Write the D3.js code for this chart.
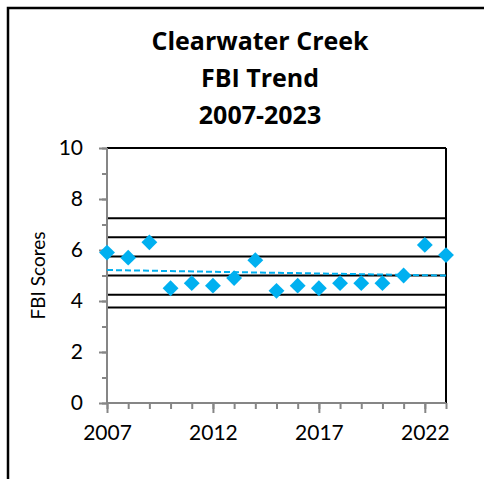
<!DOCTYPE html>
<html lang="en">
<head>
    <meta charset="UTF-8">
    <title>Clearwater Creek FBI Trend</title>
    <style>
        body { margin: 0; background: #fff; }
        text { font-family: Lato, "Open Sans", sans-serif; }
    </style>
</head>
<body>
    <svg id="chart" width="484" height="479"></svg>
    <script src="https://cdn.jsdelivr.net/npm/d3@7/dist/d3.min.js"></script>
    <script>
        var years = [2007, 2008, 2009, 2010, 2011, 2012, 2013, 2014, 2015,
                     2016, 2017, 2018, 2019, 2020, 2021, 2022, 2023];
        var scores = [5.9, 5.7, 6.3, 4.5, 4.7, 4.6, 4.9, 5.6, 4.4,
                      4.6, 4.5, 4.7, 4.7, 4.7, 5.0, 6.2, 5.8];
        // FBI class boundaries
        var thresholds = [3.75, 4.25, 5.0, 5.75, 6.5, 7.25];
        var yTicks = [0, 2, 4, 6, 8, 10];
        var xTicks = [2007, 2012, 2017, 2022];
        var titleLines = ["Clearwater Creek", "FBI Trend", "2007-2023"];

        var blue = "#00b0f0";
        var axisGrey = "#868686";

        const svg = d3.select("#chart")
            .attr("viewBox", [0, 0, 484, 479]);

        var x = d3.scaleLinear().domain([2007, 2023]).range([107, 446]);
        var y = d3.scaleLinear().domain([0, 10]).range([403, 148]);

        // outer frame (cut off at the right and bottom)
        svg.append("path")
            .attr("d", "M8,479V8H484")
            .attr("fill", "none")
            .attr("stroke", "#000")
            .attr("stroke-width", 2.5);

        svg.append("g")
            .selectAll("text")
            .data(titleLines)
            .join("text")
            .attr("x", 260)
            .attr("y", (d, i) => 50 + i * 37)
            .attr("text-anchor", "middle")
            .attr("font-size", 25)
            .attr("font-weight", "bold")
            .style("font-family", "'Open Sans', sans-serif")
            .text(d => d);

        // threshold lines + top border
        svg.append("g")
            .selectAll("line")
            .data(thresholds.concat([10]))
            .join("line")
            .attr("x1", x(2007))
            .attr("x2", x(2023))
            .attr("y1", d => y(d))
            .attr("y2", d => y(d))
            .attr("stroke", "#000")
            .attr("stroke-width", 2);

        svg.append("line")
            .attr("x1", x(2023)).attr("x2", x(2023))
            .attr("y1", y(10)).attr("y2", y(0))
            .attr("stroke", "#000")
            .attr("stroke-width", 2);

        // y axis
        var yAxis = svg.append("g")
            .attr("transform", `translate(${x(2007)},0)`);
        yAxis.call(d3.axisLeft(y).tickValues(d3.range(0, 11, 1)).tickSize(5).tickFormat(""))
            .call(g => g.select(".domain").remove())
            .call(g => g.selectAll(".tick line").attr("stroke", axisGrey).attr("stroke-width", 2));
        yAxis.append("g")
            .call(d3.axisLeft(y).tickValues(yTicks).tickSize(8).tickPadding(16))
            .call(g => g.select(".domain").remove())
            .call(g => g.selectAll(".tick line").attr("stroke", axisGrey).attr("stroke-width", 2))
            .call(g => g.selectAll(".tick text").attr("font-size", 21).attr("fill", "#000")
                .attr("font-family", "Lato, sans-serif"));
        yAxis.append("line")
            .attr("y1", y(10)).attr("y2", y(0))
            .attr("stroke", axisGrey)
            .attr("stroke-width", 2);

        // x axis
        var xAxis = svg.append("g")
            .attr("transform", `translate(0,${y(0)})`);
        xAxis.call(d3.axisBottom(x).tickValues(years).tickSize(6).tickFormat(""))
            .call(g => g.select(".domain").remove())
            .call(g => g.selectAll(".tick line").attr("stroke", axisGrey).attr("stroke-width", 2));
        xAxis.append("g")
            .call(d3.axisBottom(x).tickValues(xTicks).tickSize(10).tickPadding(12).tickFormat(d3.format("d")))
            .call(g => g.select(".domain").remove())
            .call(g => g.selectAll(".tick line").attr("stroke", axisGrey).attr("stroke-width", 2))
            .call(g => g.selectAll(".tick text").attr("font-size", 21).attr("fill", "#000")
                .attr("font-family", "Lato, sans-serif"));
        xAxis.append("line")
            .attr("x1", x(2007) - 1).attr("x2", x(2023))
            .attr("stroke", axisGrey)
            .attr("stroke-width", 2);

        svg.append("text")
            .attr("transform", `translate(37,${(y(0) + y(10)) / 2}) rotate(-90)`)
            .attr("text-anchor", "middle")
            .attr("dominant-baseline", "central")
            .attr("font-size", 19)
            .text("FBI Scores");

        // linear trend (least squares)
        var mx = d3.mean(years), my = d3.mean(scores);
        var slope = d3.sum(years, (d, i) => (d - mx) * (scores[i] - my)) /
                    d3.sum(years, d => (d - mx) * (d - mx));
        var trend = [2007, 2023].map(d => [d, my + slope * (d - mx)]);

        svg.append("path")
            .datum(trend)
            .attr("fill", "none")
            .attr("stroke", blue)
            .attr("stroke-width", 2)
            .attr("stroke-dasharray", "6,3")
            .attr("d", d3.line().x(d => x(d[0])).y(d => y(d[1])));

        // points
        svg.append("g")
            .selectAll("path")
            .data(scores)
            .join("path")
            .attr("transform", (d, i) => `translate(${x(years[i])},${y(d)})`)
            .attr("d", d3.symbol(d3.symbolDiamond2, 160))
            .attr("fill", blue);
    </script>
</body>
</html>
